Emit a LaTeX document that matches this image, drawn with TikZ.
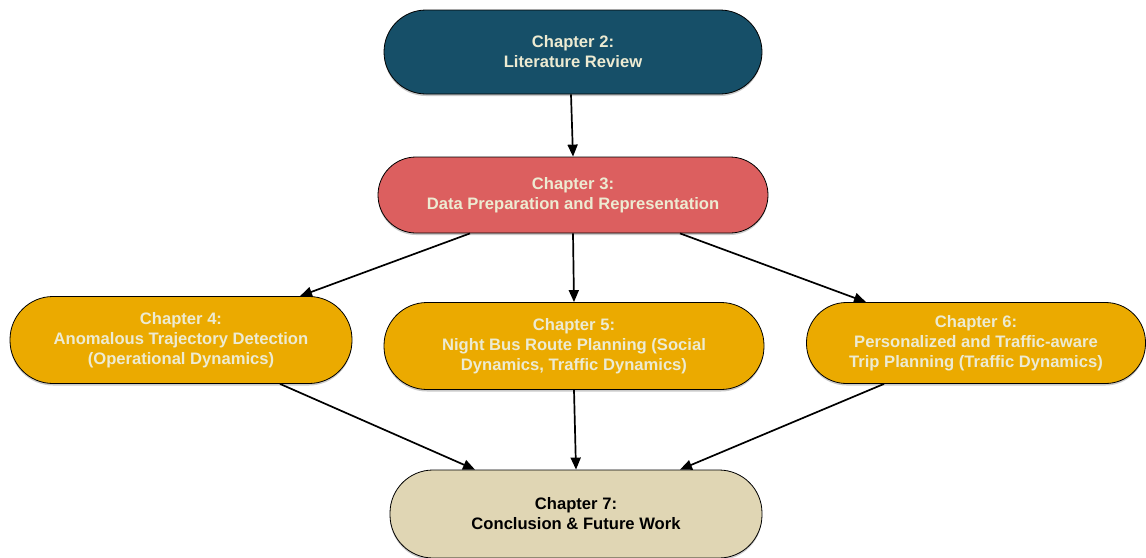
\documentclass[tikz,border=0pt]{standalone}
\usepackage{fontspec}
\setmainfont{Liberation Sans}
\usetikzlibrary{arrows.meta,shadows}
\definecolor{tealc}{HTML}{164F68}
\definecolor{redc}{HTML}{DC5F5F}
\definecolor{goldc}{HTML}{EBAA00}
\definecolor{beigec}{HTML}{E0D6B4}
\definecolor{creamtxt}{HTML}{EDEBD2}
\begin{document}
\begin{tikzpicture}[x=1pt,y=-1pt,
  chap/.style={draw=black, line width=0.8pt, rounded corners=#1, align=center,
    font=\fontsize{16.6}{20}\selectfont\bfseries, text=creamtxt, inner sep=0pt,
    drop shadow={shadow xshift=0pt, shadow yshift=-2pt, opacity=0.35, fill=black!60}},
  conn/.style={line width=1.7pt, -{Triangle[length=12pt,width=10pt]}}
]
\useasboundingbox (0,0) rectangle (1146,557);
\node[chap=42pt, fill=tealc, minimum width=378pt, minimum height=84pt] (c2) at (573,52) {Chapter 2:\\Literature Review};
\node[chap=38pt, fill=redc, minimum width=390pt, minimum height=76pt] (c3) at (573,195) {Chapter 3:\\Data Preparation and Representation};
\node[chap=43pt, fill=goldc, minimum width=342pt, minimum height=87pt] (c4) at (181,340) {Chapter 4:\\Anomalous Trajectory Detection\\(Operational Dynamics)};
\node[chap=43pt, fill=goldc, minimum width=380pt, minimum height=87pt] (c5) at (574,346) {Chapter 5:\\Night Bus Route Planning (Social\\Dynamics, Traffic Dynamics)};
\node[chap=40pt, fill=goldc, minimum width=339pt, minimum height=81pt] (c6) at (976,343) {Chapter 6:\\Personalized and Traffic-aware\\Trip Planning (Traffic Dynamics)};
\node[chap=43pt, fill=beigec, text=black, minimum width=372pt, minimum height=88pt] (c7) at (576,514) {Chapter 7:\\Conclusion \& Future Work};
\draw[conn] ([xshift=-2pt]c2.south) -- (c3.north);
\draw[conn] ([xshift=-103pt]c3.south) -- ([xshift=119pt]c4.north);
\draw[conn] (c3.south) -- (c5.north);
\draw[conn] ([xshift=107pt]c3.south) -- ([xshift=-110pt]c6.north);
\draw[conn] ([xshift=99pt]c4.south) -- ([xshift=-101pt]c7.north);
\draw[conn] (c5.south) -- (c7.north);
\draw[conn] ([xshift=-92pt]c6.south) -- ([xshift=104pt]c7.north);
\end{tikzpicture}
\end{document}
